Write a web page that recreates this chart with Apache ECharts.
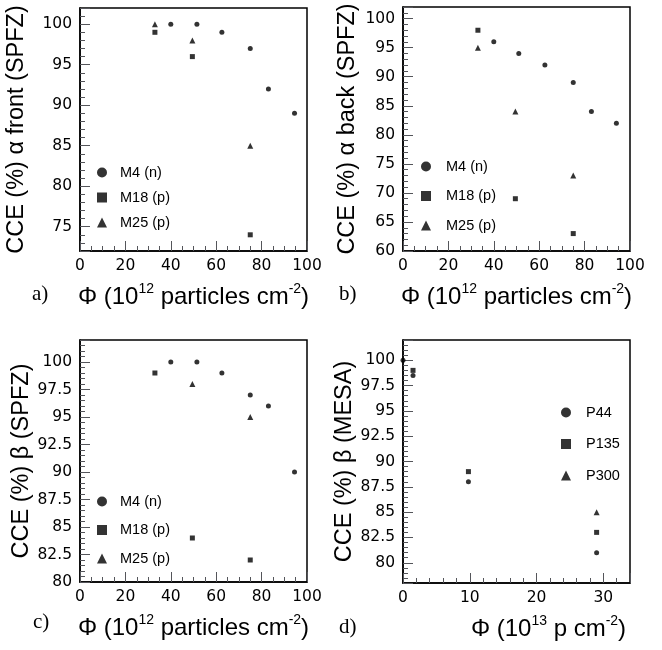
<!DOCTYPE html>
<html><head><meta charset="utf-8">
<script src="https://cdn.jsdelivr.net/npm/echarts@6/dist/echarts.min.js"></script>
<style>html,body{margin:0;padding:0;background:#fff}#c{width:662px;height:650px}</style>
</head><body><div id="c"></div>
<script>
// ---- data ----
const aM4x = [40, 51.5, 62.5, 75, 83, 94.5];
const aM4y = [100, 100, 99, 97, 92, 89];
const aM18x = [33, 49.5, 75];
const aM18y = [99, 96, 74];
const aM25x = [33, 49.5, 75];
const aM25y = [100, 98, 85];

const bM4x = [40, 51, 62.5, 75, 83, 94];
const bM4y = [96, 94, 92, 89, 84, 82];
const bM18x = [33, 49.5, 75];
const bM18y = [98, 69, 63];
const bM25x = [33, 49.5, 75];
const bM25y = [95, 84, 73];

const cM4x = [40, 51.5, 62.5, 75, 83, 94.5];
const cM4y = [100, 100, 99, 97, 96, 90];
const cM18x = [33, 49.5, 75];
const cM18y = [99, 84, 82];
const cM25x = [49.5, 75];
const cM25y = [98, 95];

const dP44x = [0, 1.5, 9.8, 29];
const dP44y = [100, 98.5, 88, 81];
const dP135x = [1.5, 9.8, 29];
const dP135y = [99, 89, 83];
const dP300x = [29];
const dP300y = [85];

const namesM = ['M4 (n)', 'M18 (p)', 'M25 (p)'];
const namesP = ['P44', 'P135', 'P300'];
const yNames = ['CCE (%) α front (SPFZ)', 'CCE (%) α back (SPFZ)', 'CCE (%) β (SPFZ)', 'CCE (%) β (MESA)'];
const panelLabels = ['a)', 'b)', 'c)', 'd)'];
const xNameA = '{m|Φ (10}{s|12}{m| particles cm}{s|-2}{m|)}';
const xNameD = '{m|Φ (10}{s|13}{m| p cm}{s|-2}{m|)}';

// ---- helpers ----
const zip = (xs, ys) => xs.map((x, i) => [x, ys[i]]);
const FONT = 'Liberation Sans';
const TICKFONT = 'DejaVu Sans';
const symbols = ['circle', 'rect', 'triangle'];
const symSizes = [5, 5, 6];

const grids = [
  {left: 80, top: 8, width: 227, height: 243},
  {left: 403, top: 7, width: 227, height: 244},
  {left: 80, top: 340, width: 227, height: 242},
  {left: 403, top: 340, width: 227, height: 243}
].map(g => Object.assign(g, {show: true, borderColor: '#000', borderWidth: 1.5, backgroundColor: 'transparent'}));

// main axes: line, labels, names
function xAxis(gi, min, max, interval, name, extraPad) {
  return {
    type: 'value', gridIndex: gi, position: 'bottom', min: min, max: max, interval: interval,
    axisLine: {show: true, onZero: false, lineStyle: {color: '#000', width: 1.5}},
    axisTick: {show: false}, splitLine: {show: false},
    axisLabel: {margin: 7, showMaxLabel: max % interval === 0, color: '#000', fontFamily: TICKFONT, fontSize: 15.5},
    name: name, nameLocation: 'middle', nameGap: 31,
    nameTextStyle: {
      color: '#000', padding: [0, 0, 0, extraPad || 0],
      rich: {
        m: {fontFamily: FONT, fontSize: 24, color: '#000', lineHeight: 30},
        s: {fontFamily: FONT, fontSize: 14, color: '#000', verticalAlign: 'top', lineHeight: 30, padding: [0, 0, 12, 0]}
      }
    }
  };
}
function yAxis(gi, min, max, interval, name, gap) {
  return {
    type: 'value', gridIndex: gi, position: 'left', min: min, max: max,
    minInterval: interval, maxInterval: interval, splitNumber: Math.round((max - min) / interval),
    axisLine: {show: true, onZero: false, lineStyle: {color: '#000', width: 1.5}},
    axisTick: {show: false}, splitLine: {show: false},
    axisLabel: {margin: 8, showMinLabel: min % interval === 0, showMaxLabel: max % interval === 0, color: '#000', fontFamily: TICKFONT, fontSize: 15.5},
    name: name, nameLocation: 'middle', nameGap: gap,
    nameTextStyle: {color: '#000', fontFamily: FONT, fontSize: 23.5}
  };
}
// tick-only axes laid over the main ones
function xTickAxis(gi, min, max, interval, minorSplit) {
  return {
    type: 'value', gridIndex: gi, position: 'bottom', offset: 0, min: min, max: max, interval: interval,
    axisLine: {show: false, onZero: false},
    axisTick: {show: true, inside: true, length: 10},
    minorTick: {show: true, splitNumber: minorSplit, length: 5},
    splitLine: {show: false},
    axisLabel: {show: true, color: 'rgba(0,0,0,0)'}
  };
}
function yTickAxis(gi, min, max, interval, minorSplit) {
  return {
    type: 'value', gridIndex: gi, position: 'left', offset: 0, min: min, max: max,
    minInterval: interval, maxInterval: interval, splitNumber: Math.round((max - min) / interval),
    axisLine: {show: false, onZero: false},
    axisTick: {show: true, inside: true, length: 10},
    minorTick: {show: true, splitNumber: minorSplit, length: 5},
    splitLine: {show: false},
    axisLabel: {show: true, color: 'rgba(0,0,0,0)'}
  };
}

const xAxes = [
  xAxis(0, 0, 100, 20, xNameA),
  xAxis(1, 0, 100, 20, xNameA),
  xAxis(2, 0, 100, 20, xNameA),
  xAxis(3, 0, 34, 10, xNameD, 64),
  xTickAxis(0, 0, 100, 20, 4),
  xTickAxis(1, 0, 100, 20, 4),
  xTickAxis(2, 0, 100, 20, 4),
  xTickAxis(3, 0, 34, 10, 5)
];
const yAxes = [
  yAxis(0, 72, 102, 5, yNames[0], 51),
  yAxis(1, 60, 102, 5, yNames[1], 43),
  yAxis(2, 80, 102, 2.5, yNames[2], 45),
  yAxis(3, 78, 102, 2.5, yNames[3], 43),
  yTickAxis(0, 72, 102, 5, 5),
  yTickAxis(1, 60, 102, 5, 5),
  yTickAxis(2, 80, 102, 2.5, 5),
  yTickAxis(3, 78, 102, 2.5, 5)
];

function sc(name, gi, xs, ys, k) {
  return {
    type: 'scatter', name: name, xAxisIndex: gi, yAxisIndex: gi,
    symbol: symbols[k], symbolSize: symSizes[k],
    itemStyle: {color: '#000'}, data: zip(xs, ys), clip: false
  };
}
const series = [
  sc(namesM[0], 0, aM4x, aM4y, 0), sc(namesM[1], 0, aM18x, aM18y, 1), sc(namesM[2], 0, aM25x, aM25y, 2),
  sc(namesM[0], 1, bM4x, bM4y, 0), sc(namesM[1], 1, bM18x, bM18y, 1), sc(namesM[2], 1, bM25x, bM25y, 2),
  sc(namesM[0], 2, cM4x, cM4y, 0), sc(namesM[1], 2, cM18x, cM18y, 1), sc(namesM[2], 2, cM25x, cM25y, 2),
  sc(namesP[0], 3, dP44x, dP44y, 0), sc(namesP[1], 3, dP135x, dP135y, 1), sc(namesP[2], 3, dP300x, dP300y, 2)
];

function legend(names, left, top, gap, padLeft) {
  return {
    orient: 'vertical', left: left, top: top, itemGap: gap, itemWidth: 10, itemHeight: 10,
    selectedMode: false, padding: 0,
    data: names.map((n, k) => ({name: n, icon: symbols[k]})),
    textStyle: {color: '#000', fontFamily: FONT, fontSize: 14.5, lineHeight: 14, padding: [0, 0, 0, padLeft]}
  };
}
const legends = [
  legend(namesM, 97, 165, 10, 8),
  legend(namesM, 421, 159, 14.5, 10),
  legend(namesM, 97, 494, 13.5, 8),
  legend(namesP, 561, 405, 16.5, 10)
];

const titlePos = [[32, 284], [339, 284], [33, 612], [339, 617]];
const titles = panelLabels.map((t, i) => ({
  text: t, left: titlePos[i][0], top: titlePos[i][1], padding: 0,
  textStyle: {fontFamily: 'Liberation Serif', fontSize: 21, fontWeight: 'normal', color: '#000'}
}));

const chart = echarts.init(document.getElementById('c'), null, {renderer: 'canvas'});
chart.setOption({
  animation: false,
  backgroundColor: '#fff',
  title: titles,
  grid: grids,
  xAxis: xAxes,
  yAxis: yAxes,
  legend: legends,
  series: series
});
</script>
</body></html>
